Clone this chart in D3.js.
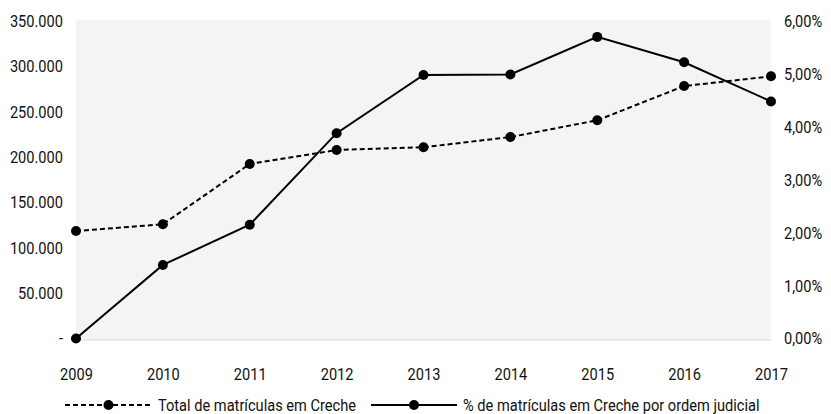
<!DOCTYPE html>
<html>
<head>
<meta charset="utf-8">
<script src="https://cdn.jsdelivr.net/npm/d3@7"></script>
<style>
  body { margin: 0; background: #fff; }
  svg text { font-family: Roboto, "Noto Sans", sans-serif; font-size: 17px; fill: #111; }
</style>
</head>
<body>
<svg id="chart" width="831" height="414"></svg>
<script>
var years = ['2009', '2010', '2011', '2012', '2013', '2014', '2015', '2016', '2017'];
var totalMatriculas = [118500, 125900, 192400, 207800, 210800, 222100, 240500, 278300, 289000];
var pctJudicial = [0.0000, 0.0139, 0.0215, 0.0388, 0.0498, 0.0499, 0.0570, 0.0522, 0.0448];
var leftTicks = [0, 50000, 100000, 150000, 200000, 250000, 300000, 350000];
var rightTicks = [0, 0.01, 0.02, 0.03, 0.04, 0.05, 0.06];
var legendLabels = ['Total de matrículas em Creche', '% de matrículas em Creche por ordem judicial'];

var ptBR = d3.formatLocale({decimal: ',', thousands: '.', grouping: [3], currency: ['R$', '']});
var fmtNum = ptBR.format(',.0f');
var fmtPct = ptBR.format('.2%');

// the original uses a condensed face; squeeze Roboto horizontally instead
var squeeze = 0.86;
function narrow(sel) {
    sel.each(function () {
        var t = d3.select(this);
        var tx = +t.attr('x') || 0;
        var ty = +t.attr('y') || 0;
        t.attr('x', 0).attr('y', 0)
         .attr('transform', 'translate(' + tx + ',' + ty + ') scale(' + squeeze + ',1)');
    });
}

var svg = d3.select('#chart');
var margin = {top: 21, left: 76, right: 60, bottom: 75.5};
var width = 831 - margin.left - margin.right;
var height = 414 - margin.top - margin.bottom;

var x = d3.scalePoint().domain(years).range([0, width]);
var yLeft = d3.scaleLinear().domain([0, 350000]).range([height, 0]);
var yRight = d3.scaleLinear().domain([0, 0.06]).range([height, 0]);

var g = svg.append('g')
    .attr('transform', 'translate(' + margin.left + ',' + margin.top + ')');

g.append('rect')
    .attr('x', 0).attr('y', -1)
    .attr('width', width).attr('height', height + 2)
    .attr('fill', '#f3f4f6');

g.append('line')
    .attr('x1', 0).attr('x2', width)
    .attr('y1', height + 1.5).attr('y2', height + 1.5)
    .attr('stroke', '#d9d9d9').attr('stroke-width', 1);

// axes
var axisLeft = d3.axisLeft(yLeft)
    .tickValues(leftTicks)
    .tickSize(0).tickPadding(13)
    .tickFormat(function (d) { return d === 0 ? '-' : fmtNum(d); });
var axisRight = d3.axisRight(yRight)
    .tickValues(rightTicks)
    .tickSize(0).tickPadding(13)
    .tickFormat(fmtPct);
var axisBottom = d3.axisBottom(x)
    .tickSize(0).tickPadding(29);

[g.append('g').call(axisLeft),
 g.append('g').attr('transform', 'translate(' + width + ',0)').call(axisRight),
 g.append('g').attr('transform', 'translate(0,' + height + ')').call(axisBottom)]
    .forEach(function (a) {
        a.select('.domain').remove();
        a.selectAll('text').style('font-size', null).attr('fill', '#111');
        a.attr('font-family', null).attr('font-size', null);
        a.selectAll('text').call(narrow);
    });

// series
var series = [
    {values: totalMatriculas, y: yLeft, dash: '5,3'},
    {values: pctJudicial, y: yRight, dash: null}
];

series.forEach(function (s) {
    var line = d3.line()
        .x(function (d, i) { return x(years[i]); })
        .y(function (d) { return s.y(d); });
    g.append('path')
        .datum(s.values)
        .attr('d', line)
        .attr('fill', 'none')
        .attr('stroke', '#000')
        .attr('stroke-width', 2)
        .attr('stroke-dasharray', s.dash);
    g.selectAll(null)
        .data(s.values)
      .enter()
      .append('circle')
        .attr('cx', function (d, i) { return x(years[i]); })
        .attr('cy', function (d) { return s.y(d); })
        .attr('r', 5)
        .attr('fill', '#000');
});

// legend
var legendY = 405;
var legendItems = [
    {x1: 65, x2: 152, label: legendLabels[0], dash: '5,3', tx: 158},
    {x1: 371, x2: 457, label: legendLabels[1], dash: null, tx: 463}
];
var legend = svg.append('g').attr('class', 'legend');
legendItems.forEach(function (d) {
    var entry = legend.append('g').attr('class', 'entry');
    entry.append('line')
        .attr('x1', d.x1).attr('x2', d.x2)
        .attr('y1', legendY).attr('y2', legendY)
        .attr('stroke', '#000').attr('stroke-width', 2)
        .attr('stroke-dasharray', d.dash);
    entry.append('circle')
        .attr('cx', (d.x1 + d.x2) / 2).attr('cy', legendY)
        .attr('r', 5).attr('fill', '#000');
    entry.append('text')
        .attr('x', d.tx).attr('y', legendY)
        .attr('dy', '.35em')
        .text(d.label)
        .call(narrow);
});
</script>
</body>
</html>
